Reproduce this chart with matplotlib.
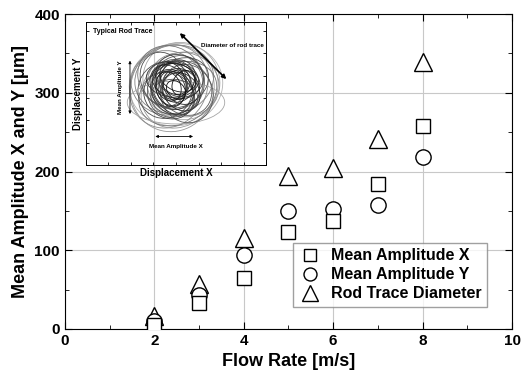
import matplotlib.pyplot as plt
from matplotlib.patches import Ellipse
from matplotlib.ticker import MultipleLocator

plt.rcParams['font.family'] = ['Liberation Sans', 'DejaVu Sans']
plt.rcParams['font.weight'] = 'bold'

# main data
flow = [2, 3, 4, 5, 6, 7, 8]
amp_x = [5, 33, 65, 123, 137, 184, 258]
amp_y = [10, 43, 94, 150, 152, 157, 218]
trace_d = [16, 57, 115, 194, 205, 241, 339]

# inset sketch: hand-read loops of the rod trace (centre x, centre y, width, height, angle, grey)
loop_cx = [5.0, 4.8, 5.3, 4.6, 5.2, 4.9, 5.4, 4.5, 5.1, 4.7, 5.0, 5.5, 4.4, 5.2, 4.9, 5.0, 4.8, 5.1, 5.3, 4.7, 5.0, 4.9,
           4.3, 5.6, 4.6, 5.2, 4.8, 5.0, 5.3, 4.7, 5.1, 4.9, 4.6, 5.4, 5.0, 4.8]
loop_cy = [4.5, 4.3, 4.7, 4.4, 4.2, 4.8, 4.5, 4.6, 4.0, 4.9, 4.4, 4.3, 4.2, 4.6, 4.5, 3.5, 4.1, 4.7, 4.4, 4.3, 4.5, 4.6,
           4.8, 4.0, 3.9, 5.0, 4.2, 4.7, 4.1, 4.5, 4.9, 3.8, 4.4, 4.6, 4.2, 4.8]
loop_w = [5.2, 4.6, 4.2, 4.8, 3.9, 4.4, 3.6, 4.0, 4.5, 3.4, 3.0, 2.8, 3.2, 2.6, 2.4, 5.4, 2.2, 2.0, 1.8, 1.6, 1.4, 1.2,
          3.1, 2.9, 2.5, 2.7, 2.1, 1.9, 2.3, 1.7, 1.5, 2.6, 1.3, 1.1, 0.9, 2.0]
loop_h = [4.6, 4.9, 4.4, 4.2, 4.6, 3.8, 4.0, 3.6, 3.4, 3.8, 3.6, 3.2, 3.0, 3.4, 2.8, 2.4, 2.6, 2.4, 2.2, 2.0, 1.8, 1.6,
          2.5, 3.3, 2.9, 2.3, 3.1, 2.7, 1.9, 2.5, 2.1, 2.0, 1.7, 1.5, 1.2, 2.9]
loop_ang = [10, -20, 35, 60, -45, 15, 80, -10, 25, 50, -30, 40, 70, -60, 5, 0, 30, -15, 45, 20, -40, 60,
            -70, 15, 55, -25, 35, 75, -50, 10, 65, -5, 25, -35, 45, 85]
loop_grey = [0.7, 0.6, 0.65, 0.55, 0.6, 0.5, 0.55, 0.5, 0.45, 0.45, 0.35, 0.35, 0.3, 0.3, 0.25, 0.65, 0.2, 0.2, 0.15,
             0.15, 0.1, 0.1, 0.3, 0.35, 0.25, 0.25, 0.2, 0.15, 0.15, 0.1, 0.1, 0.3, 0.1, 0.05, 0.05, 0.2]

fig = plt.figure(figsize=(5.23, 3.82), dpi=100)
ax = fig.add_axes([0.124, 0.139, 0.855, 0.824])

mk = dict(linestyle='none', markerfacecolor='white', markeredgecolor='black', markeredgewidth=1.0)
ax.plot(flow, trace_d, marker='^', markersize=13, label='Rod Trace Diameter', **mk, zorder=3)
ax.plot(flow, amp_y, marker='o', markersize=11, label='Mean Amplitude Y', **mk, zorder=4)
ax.plot(flow, amp_x, marker='s', markersize=10, label='Mean Amplitude X', **mk, zorder=5)

ax.set_xlim(0, 10)
ax.set_ylim(0, 400)
ax.xaxis.set_major_locator(MultipleLocator(2))
ax.xaxis.set_minor_locator(MultipleLocator(1))
ax.yaxis.set_major_locator(MultipleLocator(100))
ax.yaxis.set_minor_locator(MultipleLocator(50))
ax.tick_params(which='both', direction='in', top=True, right=True, labelsize=11)
ax.tick_params(which='major', length=5)
ax.tick_params(which='minor', length=3)
ax.grid(True, which='major', color='#c8c8c8', linewidth=0.8)
ax.set_axisbelow(True)
ax.set_xlabel('Flow Rate [m/s]', fontsize=13, fontweight='bold')
ax.set_ylabel('Mean Amplitude X and Y [μm]', fontsize=13, fontweight='bold')

handles, labels = ax.get_legend_handles_labels()
leg = ax.legend(handles[::-1], labels[::-1], loc='lower right', bbox_to_anchor=(0.962, 0.045),
                fontsize=11.5, fancybox=False, edgecolor='#888888', handletextpad=0.6,
                labelspacing=0.25, borderpad=0.35, handlelength=1.4, markerscale=0.85)
for t in leg.get_texts():
    t.set_fontweight('bold')

# inset
ins = fig.add_axes([0.164, 0.568, 0.345, 0.374])
ins.set_facecolor('none')
ins.set_xlim(0, 10)
ins.set_ylim(0, 8)
ins.xaxis.set_major_locator(MultipleLocator(1.25))
ins.yaxis.set_major_locator(MultipleLocator(1.25))
ins.tick_params(direction='in', top=True, right=True, length=2.5, width=0.6,
                labelbottom=False, labelleft=False)
for s in ins.spines.values():
    s.set_linewidth(0.7)
ins.set_xlabel('Displacement X', fontsize=7, fontweight='bold', labelpad=2)
ins.set_ylabel('Displacement Y', fontsize=7, fontweight='bold', labelpad=2)

for cx, cy, w, h, a, g in zip(loop_cx, loop_cy, loop_w, loop_h, loop_ang, loop_grey):
    ins.add_patch(Ellipse((cx, cy), w, h, angle=a, fill=False, edgecolor=str(g), linewidth=0.6))

ins.text(0.4, 7.5, 'Typical Rod Trace', fontsize=5, fontweight='bold', va='center')
ins.annotate('', xy=(7.9, 4.7), xytext=(5.1, 7.5),
             arrowprops=dict(arrowstyle='<|-|>', color='black', lw=1.2, mutation_scale=6))
ins.text(6.4, 6.7, 'Diameter of rod trace', fontsize=4.5, fontweight='bold', va='center')
ins.annotate('', xy=(2.45, 2.7), xytext=(2.45, 6.0),
             arrowprops=dict(arrowstyle='<|-|>', color='black', lw=0.6, mutation_scale=4))
ins.text(1.95, 4.35, 'Mean Amplitude Y', fontsize=4.5, fontweight='bold', rotation=90,
         ha='center', va='center')
ins.annotate('', xy=(6.1, 1.6), xytext=(3.7, 1.6),
             arrowprops=dict(arrowstyle='<|-|>', color='black', lw=0.6, mutation_scale=4))
ins.text(5.0, 1.05, 'Mean Amplitude X', fontsize=4.5, fontweight='bold', ha='center', va='center')

fig.savefig('out.png', dpi=100)
